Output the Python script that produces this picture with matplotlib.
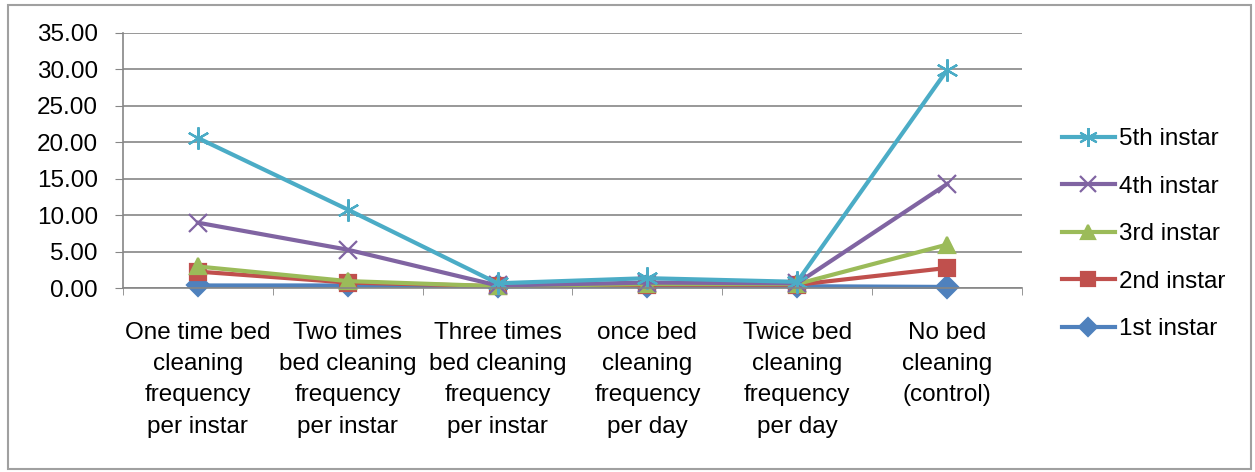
import matplotlib.pyplot as plt
from matplotlib.patches import Rectangle

plt.rcParams['font.family'] = ['Liberation Sans', 'DejaVu Sans']

categories = [
    "One time bed\ncleaning\nfrequency\nper instar",
    "Two times\nbed cleaning\nfrequency\nper instar",
    "Three times\nbed cleaning\nfrequency\nper instar",
    "once bed\ncleaning\nfrequency\nper day",
    "Twice bed\ncleaning\nfrequency\nper day",
    "No bed\ncleaning\n(control)",
]

instar_1 = [0.4, 0.4, 0.3, 0.3, 0.3, 0.2]
instar_2 = [2.3, 0.8, 0.3, 0.5, 0.5, 2.8]
instar_3 = [3.0, 1.0, 0.3, 0.6, 0.6, 6.0]
instar_4 = [9.0, 5.3, 0.4, 0.8, 0.7, 14.3]
instar_5 = [20.6, 10.8, 0.7, 1.4, 0.9, 29.9]

series = [
    ("1st instar", instar_1, "#4F81BD", "D", 11),
    ("2nd instar", instar_2, "#C0504D", "s", 12),
    ("3rd instar", instar_3, "#9BBB59", "^", 12),
    ("4th instar", instar_4, "#8064A2", "x", 13),
    ("5th instar", instar_5, "#4BACC6", (6, 2, 0), 16),
]

fig = plt.figure(figsize=(12.55, 4.72), dpi=100)
ax = fig.add_axes([0.098, 0.389, 0.7163, 0.5413])

x = list(range(len(categories)))
handles = []
for name, vals, col, mk, ms in series:
    h, = ax.plot(x, vals, color=col, lw=3.0, marker=mk, ms=ms,
                 mec=col, mfc=col, mew=1.6, label=name, clip_on=False)
    handles.append(h)

ax.set_xlim(-0.5, len(categories) - 0.5)
ax.set_ylim(0, 35)
ax.set_yticks(range(0, 36, 5))
ax.set_yticklabels([f"{v:.2f}" for v in range(0, 36, 5)], fontsize=17.5)
ax.set_xticks(x)
ax.set_xticklabels(categories, fontsize=17.5, linespacing=1.55)
ax.set_xticks([i - 0.5 for i in range(len(categories) + 1)], minor=True)
ax.tick_params(axis='x', which='major', length=0, pad=24)
ax.tick_params(axis='x', which='minor', length=5, color='#868686', direction='out')
ax.tick_params(axis='y', length=6, color='#868686', direction='out', pad=12)

ax.grid(axis='y', color='#868686', lw=1.2)
ax.set_axisbelow(True)
for s in ['top', 'right']:
    ax.spines[s].set_visible(False)
for s in ['left', 'bottom']:
    ax.spines[s].set_color('#868686')
    ax.spines[s].set_linewidth(1.2)

fig.legend(handles[::-1], [h.get_label() for h in handles[::-1]],
           loc='center left', bbox_to_anchor=(0.846, 0.504), frameon=False,
           fontsize=17.5, labelspacing=1.05, handlelength=2.2, handletextpad=0.15,
           borderpad=0, borderaxespad=0, markerscale=0.85)

# outer chart border
fig.patches.append(Rectangle((0.0064, 0.006), 0.9904, 0.983, transform=fig.transFigure,
                             fill=False, edgecolor='#A0A0A0', lw=1.5))

fig.savefig("out.png", dpi=100)
